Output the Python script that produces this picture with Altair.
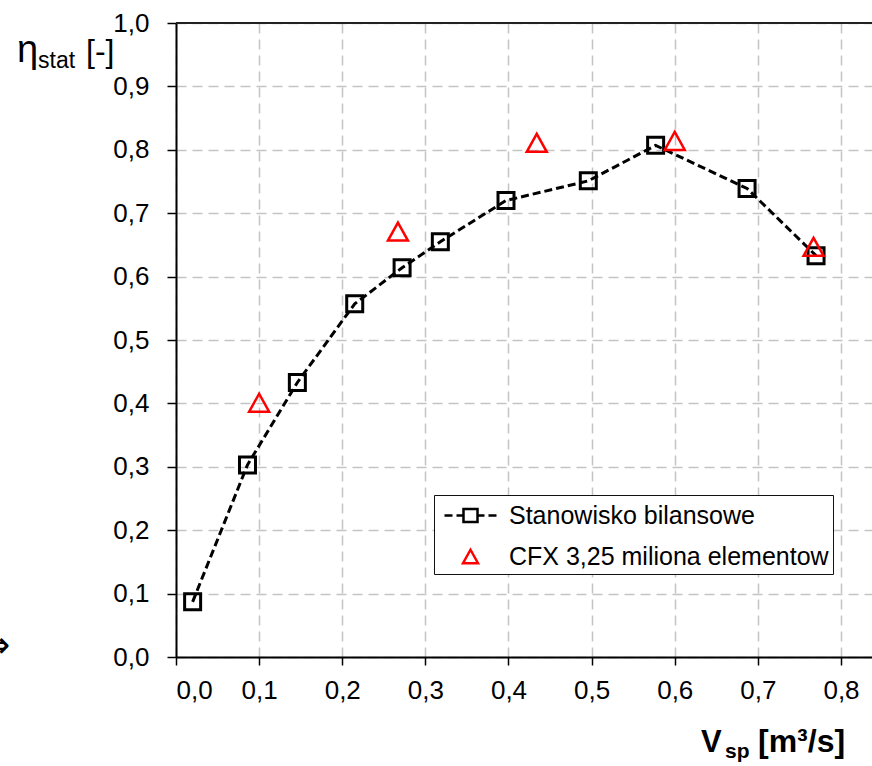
import altair as alt
import pandas as pd

# ---- data ----
sq_x = [0.020, 0.086, 0.146, 0.215, 0.272, 0.318, 0.397, 0.496, 0.577, 0.687, 0.770]
sq_y = [0.087, 0.303, 0.433, 0.557, 0.614, 0.655, 0.720, 0.751, 0.807, 0.739, 0.633]
tri_x = [0.100, 0.267, 0.434, 0.600, 0.767]
tri_y = [0.401, 0.671, 0.811, 0.814, 0.647]
series_names = ["Stanowisko bilansowe", "CFX 3,25 miliona elementow"]
x_ticks = [0.0, 0.1, 0.2, 0.3, 0.4, 0.5, 0.6, 0.7, 0.8]
y_ticks = [0.0, 0.1, 0.2, 0.3, 0.4, 0.5, 0.6, 0.7, 0.8, 0.9, 1.0]

FONT = "Liberation Sans"
W, H = 696, 634

sq = pd.DataFrame({"x": sq_x, "y": sq_y})
tri = pd.DataFrame({"x": tri_x, "y": tri_y, "series": series_names[1]})

x_scale = alt.Scale(domain=[0, 0.8373], nice=False, zero=False)
y_scale = alt.Scale(domain=[0, 1], nice=False, zero=False)
fmt = "replace(format(datum.value, '.1f'), '.', ',')"

x_axis = alt.Axis(values=x_ticks, labelExpr=fmt, title=None, grid=True,
                  gridDash=[10, 6], gridColor="#c4c4c4", gridWidth=1.5,
                  domainColor="black", domainWidth=2, tickColor="black",
                  tickWidth=1.5, tickSize=8, labelFont=FONT, labelFontSize=26,
                  labelColor="black", labelPadding=12)
y_axis = alt.Axis(values=y_ticks, labelExpr=fmt, title=None, grid=True,
                  gridDash=[10, 6], gridColor="#c4c4c4", gridWidth=1.5,
                  domainColor="black", domainWidth=2, tickColor="black",
                  tickWidth=1.5, tickSize=9, labelFont=FONT, labelFontSize=26,
                  labelColor="black", labelPadding=18)

# legend symbol paths (unit = half the symbol size)
path_line = ("M-1.733,0L-1.2,0M-0.933,0L-0.467,0"
             "M-0.467,-0.433L0.467,-0.433L0.467,0.433L-0.467,0.433Z"
             "M0.467,0L0.933,0M1.2,0L1.733,0")
path_tri = "M0,-0.45L0.5,0.45L-0.5,0.45Z"

legend = alt.Legend(
    title=None, orient="none", legendX=258, legendY=472,
    strokeColor="#111111", fillColor="white",
    padding=4, symbolOffset=16, labelOffset=22, rowPadding=11,
    symbolSize=900, symbolStrokeWidth=2.5, symbolFillColor="transparent",
    labelFont=FONT, labelFontSize=25, labelColor="black", labelLimit=0,
)

base_sq = alt.Chart(sq)
line = base_sq.mark_line(color="black", strokeWidth=3, strokeDash=[8, 4]).encode(
    x=alt.X("x:Q", scale=x_scale, axis=x_axis),
    y=alt.Y("y:Q", scale=y_scale, axis=y_axis),
)
squares = base_sq.mark_point(shape="square", filled=False, color="black",
                             size=256, strokeWidth=3, opacity=1).encode(
    x=alt.X("x:Q", scale=x_scale),
    y=alt.Y("y:Q", scale=y_scale),
)
triangles = alt.Chart(tri).mark_point(filled=False, size=1600, strokeWidth=2.5,
                                      opacity=1).encode(
    x=alt.X("x:Q", scale=x_scale),
    y=alt.Y("y:Q", scale=y_scale),
    shape=alt.Shape("series:N", scale=alt.Scale(domain=series_names,
                                                range=[path_line, path_tri]),
                    legend=legend),
    color=alt.Color("series:N", scale=alt.Scale(domain=series_names,
                                                range=["black", "#ff0000"]),
                    legend=legend),
)

# top frame line of the plot area
top_line = alt.Chart(pd.DataFrame({"t": [0]})).mark_rule(
    color="#222222", strokeWidth=2
).encode(x=alt.value(0), x2=alt.value(W), y=alt.value(0))


def label(txt, x, y, size, bold=False, font=FONT):
    return alt.Chart(pd.DataFrame({"t": [txt]})).mark_text(
        align="left", baseline="alphabetic", font=font, fontSize=size,
        fontWeight="bold" if bold else "normal", color="black"
    ).encode(x=alt.value(x), y=alt.value(y), text="t:N")


texts = [
    label("η", -159, 39, 38),
    label("stat", -138, 45, 23),
    label("[-]", -90, 39, 32),
    label("V", 525, 729, 31, True),
    label("sp", 549, 735, 21, True),
    label("[m³/s]", 582, 729, 32, True),
    label("⇒", -196, 634, 36, False, "DejaVu Sans"),
]

chart = alt.layer(line, squares, triangles, top_line, *texts).properties(
    width=W, height=H,
    autosize=alt.AutoSizeParams(type="none"),
    padding={"left": 176, "top": 23, "right": 0, "bottom": 766 - 23 - H},
).configure_view(stroke=None).configure(background="white")

chart.save("out.html", embed_options={"renderer": "svg", "actions": False})
